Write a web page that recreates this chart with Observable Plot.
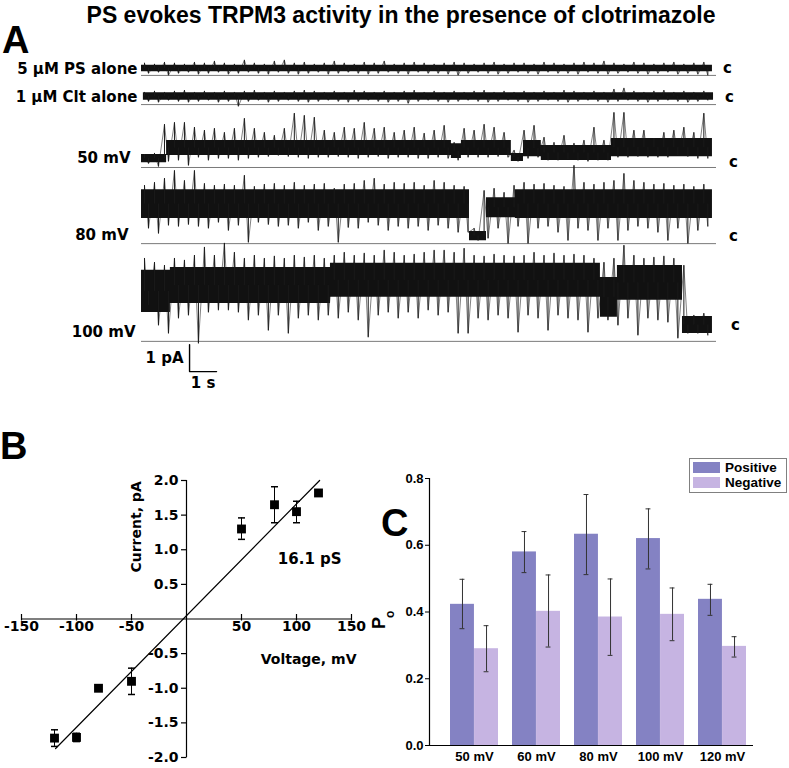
<!DOCTYPE html>
<html><head><meta charset="utf-8">
<script src="https://cdn.jsdelivr.net/npm/d3@7"></script>
<script src="https://cdn.jsdelivr.net/npm/@observablehq/plot@0.6"></script>
<style>
body{margin:0;background:#fff;}
#fig{position:relative;width:789px;height:768px;overflow:hidden;background:#fff;}
.letter{position:absolute;font-family:"Liberation Sans",Arial,sans-serif;font-weight:bold;font-size:38px;line-height:0.75;color:#000;}
#title{position:absolute;left:13px;top:2px;width:776px;text-align:center;font-family:"Liberation Sans",Arial,sans-serif;font-weight:bold;font-size:23px;line-height:1.15;color:#000;white-space:nowrap;}
#legend{position:absolute;left:689px;top:458px;width:96px;height:33px;border:1px solid #808080;background:#fff;font-family:"Liberation Sans",Arial,sans-serif;font-weight:bold;font-size:13.5px;}
#legend .row{position:absolute;left:3px;height:12px;display:flex;align-items:center;}
#legend .sw{width:27px;height:11px;margin-right:5px;}
</style></head><body>
<div id="fig"></div>
<script>
// ================= DATA =================
const title = "PS evokes TRPM3 activity in the presence of clotrimazole";
const panelLetters = ["A", "B", "C"];

// ---- Panel A: single-channel recordings (current in pA relative to closed level, sampled every sampleStep s) ----
const traceLabels = ["5 µM PS alone", "1 µM Clt alone", "50 mV", "80 mV", "100 mV"];
const closedLabel = "c";
const recordSeconds = 21.3;
const sampleStep = 0.37;
const psHi = [0.19,0.15,0.22,0.19,0.15,0.22,0.19,0.26,0.19,0.15,0.30,0.19,0.15,0.26,0.30,0.19,0.22,0.15,0.19,0.26,0.19,0.15,0.22,0.19,0.26,0.15,0.19,0.22,0.19,0.15,0.19,0.22,0.19,0.15,0.19,0.22,0.15,0.19,0.19,0.15,0.22,0.19,0.15,0.19,0.22,0.19,0.26,0.19,0.15,0.22,0.19,0.15,0.19,0.22,0.15,0.19,0.22];
const psLo = [-0.19,-0.15,-0.26,-0.19,-0.15,-0.22,-0.19,-0.15,-0.22,-0.19,-0.15,-0.19,-0.22,-0.15,-0.19,-0.22,-0.19,-0.15,-0.22,-0.19,-0.15,-0.19,-0.22,-0.19,-0.15,-0.19,-0.22,-0.15,-0.19,-0.19,-0.22,-0.26,-0.19,-0.15,-0.19,-0.22,-0.19,-0.15,-0.19,-0.22,-0.15,-0.19,-0.19,-0.22,-0.15,-0.19,-0.22,-0.19,-0.15,-0.19,-0.22,-0.19,-0.15,-0.22,-0.19,-0.22,-0.26];
const psCore = [[0,-0.12,0.12],[21.15,-0.12,0.12]];
const cltHi = [0.15,0.19,0.15,0.19,0.22,0.15,0.19,0.15,0.19,0.15,0.19,0.22,0.15,0.19,0.15,0.19,0.22,0.19,0.15,0.19,0.15,0.22,0.19,0.15,0.19,0.15,0.19,0.22,0.15,0.19,0.15,0.19,0.15,0.19,0.22,0.15,0.19,0.15,0.19,0.15,0.19,0.15,0.22,0.19,0.15,0.19,0.15,0.26,0.30,0.19,0.15,0.19,0.22,0.15,0.19,0.15,0.19];
const cltLo = [-0.19,-0.22,-0.15,-0.19,-0.22,-0.19,-0.15,-0.22,-0.19,-0.37,-0.19,-0.15,-0.22,-0.19,-0.15,-0.19,-0.22,-0.19,-0.15,-0.19,-0.22,-0.19,-0.15,-0.19,-0.22,-0.19,-0.26,-0.19,-0.15,-0.19,-0.22,-0.19,-0.15,-0.19,-0.22,-0.19,-0.15,-0.19,-0.22,-0.19,-0.15,-0.19,-0.22,-0.19,-0.15,-0.19,-0.22,-0.19,-0.15,-0.19,-0.22,-0.19,-0.15,-0.19,-0.22,-0.19,-0.15];
const cltCore = [[0.07,-0.14,0.14],[21.19,-0.14,0.14]];
const hi50 = [0.15,0.19,1.26,1.33,1.33,1.15,1.04,1.11,0.96,1.11,1.48,1.11,0.96,0.85,1.11,1.67,1.59,1.52,1.04,0.96,1.15,1.11,1.33,1.11,1.15,0.96,1.04,1.15,0.93,1.04,1.22,0.59,1.11,1.04,1.26,1.15,0.96,0.30,1.04,1.22,0.78,0.59,0.85,0.56,0.67,1.15,0.67,1.70,1.70,1.04,1.04,0.74,0.96,1.04,1.15,0.96,1.67];
const lo50 = [-0.19,-0.30,-0.11,-0.07,-0.26,0.04,-0.07,0,0,-0.07,0,0.04,0.07,0.11,0.07,0.04,0,0.04,0.04,0.07,0.04,0,0.04,0.07,0,0.04,0.04,0,0,0.04,0,-0.07,0.04,0.04,0.04,0.07,0.04,-0.11,0,0.04,-0.07,-0.07,-0.04,-0.07,-0.11,-0.07,-0.07,0.04,0.04,0.07,0.04,0.04,0.04,0.11,0.07,0,0];
const core50 = [[0,-0.15,0.15],[0.93,0.11,0.67],[11.48,0.0,0.55],[11.85,0.11,0.67],[13.70,-0.11,0.19],[14.15,0.07,0.67],[14.81,-0.07,0.48],[17.41,0.07,0.74],[21.15,0.07,0.74]];
const hi80 = [1.89,2.00,2.15,2.44,2.07,2.44,1.96,1.89,1.93,1.89,2.26,1.85,1.93,1.96,1.89,2.00,1.89,1.93,1.96,1.78,1.93,1.96,2.07,2.15,1.93,2.00,1.96,2.00,1.89,2.07,2.00,1.89,1.85,0.30,1.70,1.78,1.63,1.89,2.00,1.93,1.96,1.89,1.85,2.63,2.00,1.93,2.00,2.07,2.33,2.07,2.00,1.93,1.96,1.89,1.93,1.85,1.93];
const lo80 = [0.30,0.11,0.41,0.37,0.44,0.37,0.30,0.52,0.22,0.41,-0.22,0.52,0.44,0.37,0.41,0.30,0.52,0.22,0.37,-0.22,0.33,0.30,0.52,0.41,0.22,0.37,0.30,0.37,0.22,0.41,0.30,0.15,0.15,-0.15,-0.07,0.30,-0.26,0.37,-0.26,0.30,0.37,0.15,-0.15,0.30,0.22,-0.15,0.30,-0.15,0.22,0.37,0.30,0.15,-0.15,0.30,-0.26,0.22,0.37];
const core80 = [[0,0.67,1.74],[12.15,-0.15,0.19],[12.78,0.70,1.44],[13.85,0.67,1.74],[21.15,0.67,1.74]];
const hi100 = [2.48,2.33,2.22,2.48,2.41,2.59,2.89,2.59,3.04,2.70,2.48,2.59,2.48,2.56,2.48,2.59,2.52,2.59,2.48,2.59,2.70,2.59,2.67,2.59,2.78,2.70,2.59,2.63,2.70,2.78,2.78,2.70,2.85,2.59,2.56,2.63,2.59,2.56,2.59,2.70,2.59,2.67,2.59,2.63,2.59,2.48,2.33,2.48,2.96,2.59,2.48,2.52,2.56,2.48,2.22,0.37,0.44];
const lo100 = [0.74,0,-0.30,0.26,0.37,-0.67,0.48,0.56,0.56,0.48,0.19,0.37,-0.19,0.37,-0.30,0.26,0.37,0.19,0.37,0.26,0.48,0.19,-0.44,0.37,0.48,0.26,0.48,0.26,0.56,0.37,0.48,-0.30,-0.30,0.26,0.19,0.37,0.26,-0.26,0.37,0.26,-0.19,0.37,0.26,0.19,-0.26,0.26,0.19,0,0.26,-0.37,0.26,0.19,0.11,-0.48,-0.30,-0.30,-0.37];
const core100 = [[0,0.48,2.04],[1.07,0.81,2.15],[7.0,1.04,2.30],[17.0,0.3,1.78],[17.63,0.93,2.22],[20.04,-0.3,0.33],[21.15,-0.3,0.33]];
const scaleBarCurrent = 1;   // pA
const scaleBarTime = 1;      // s
const scaleBarLabels = ["1 pA", "1 s"];

// ---- Panel B: I-V relationship ----
const ivVoltage = [-120, -100, -80, -50, 50, 80, 100, 120];
const ivCurrent = [-1.72, -1.71, -1.00, -0.90, 1.30, 1.65, 1.55, 1.82];
const ivErrLow  = [-1.84, -1.77, null, -1.09, 1.15, 1.39, 1.39, null];
const ivErrHigh = [-1.60, -1.65, null, -0.71, 1.46, 1.91, 1.70, null];
const fitVoltage = [-119, 121];
const fitCurrent = [-1.87, 2.00];
const ivXTicks = [-150, -100, -50, 50, 100, 150];
const ivYTicks = [-2, -1.5, -1, -0.5, 0.5, 1, 1.5, 2];
const ivXLabel = "Voltage, mV";
const ivYLabel = "Current, pA";
const conductanceLabel = "16.1 pS";

// ---- Panel C: open probability ----
const poVoltages = ["50 mV", "60 mV", "80 mV", "100 mV", "120 mV"];
const poSeries = ["Positive", "Negative"];
const poPositive        = [0.423, 0.580, 0.633, 0.620, 0.438];
const poPositiveErrLow  = [0.350, 0.518, 0.512, 0.529, 0.390];
const poPositiveErrHigh = [0.498, 0.641, 0.752, 0.709, 0.483];
const poNegative        = [0.290, 0.402, 0.385, 0.393, 0.297];
const poNegativeErrLow  = [0.221, 0.295, 0.270, 0.314, 0.265];
const poNegativeErrHigh = [0.359, 0.511, 0.499, 0.472, 0.326];
const poYTicks = [0, 0.2, 0.4, 0.6, 0.8];
const poYLabel = ["P", "o"];

// ================= LAYOUT / STYLE =================
const seriesColors = ["#8482c3", "#c6b4e2"];
const boldDejaVu = {fontFamily: "'DejaVu Sans', sans-serif", fontWeight: "bold", background: "transparent", overflow: "visible"};
const fig = document.getElementById("fig");
function put(node, left, top) {
  node.style.position = "absolute"; node.style.left = left + "px"; node.style.top = top + "px";
  fig.appendChild(node); return node;
}

// ---- Panel A ----
const pxPerPA = 27;
const A = {width: 789, height: 400, ml: 141, mr: 73};
const rowLayout = [
  {level: 12.30, base: 12.04, labelDx: -4,  labelDy: 1, cDx: 11, cDy: 0},
  {level: 11.26, base: 10.96, labelDx: -4,  labelDy: 1, cDx: 13, cDy: 1},
  {level: 8.96,  base: 8.63,  labelDx: -11, labelDy: 0, cDx: 17, cDy: 4},
  {level: 6.07,  base: 5.81,  labelDx: -13, labelDy: -1, cDx: 17, cDy: 0},
  {level: 2.78,  base: 2.19,  labelDx: -6,  labelDy: 7, cDx: 19, cDy: 0}
];
const traces = [
  {hi: psHi, lo: psLo, core: psCore},
  {hi: cltHi, lo: cltLo, core: cltCore},
  {hi: hi50, lo: lo50, core: core50},
  {hi: hi80, lo: lo80, core: core80},
  {hi: hi100, lo: lo100, core: core100}
];
const scaleBarAnchor = {t: 1.78, v: 1.07};
const coreBisect = d3.bisector(d => d[0]).right;
function coreAt(core, t) { return core[Math.max(0, Math.min(core.length - 1, coreBisect(core, t) - 1))]; }

const marksA = [];
traces.forEach((tr, r) => {
  const L = rowLayout[r];
  const zig = [], ups = [], downs = [];
  tr.hi.forEach((h, i) => {
    const tu = i * sampleStep + sampleStep * 0.3, td = i * sampleStep + sampleStep * 0.7;
    zig.push({t: tu, v: L.level + h});
    zig.push({t: td, v: L.level + tr.lo[i]});
    const cu = coreAt(tr.core, tu), cd = coreAt(tr.core, td);
    ups.push({t: tu, y1: L.level + (cu[1] + cu[2]) / 2, y2: L.level + h});
    downs.push({t: td, y1: L.level + (cd[1] + cd[2]) / 2, y2: L.level + tr.lo[i]});
  });
  marksA.push(Plot.ruleY([L.base], {stroke: "#7a7a7a", strokeWidth: 1}));
  marksA.push(Plot.line(zig, {x: "t", y: "v", stroke: "#2a2a2a", strokeWidth: 0.7, strokeOpacity: 0.85}));
  marksA.push(Plot.areaY(tr.core, {x: d => d[0], y1: d => L.level + d[1], y2: d => L.level + d[2], curve: "step-after", fill: "#111"}));
  marksA.push(Plot.ruleX(ups, {x: "t", y1: "y1", y2: "y2", stroke: "#1a1a1a", strokeWidth: 1}));
  marksA.push(Plot.ruleX(downs, {x: "t", y1: "y1", y2: "y2", stroke: "#1a1a1a", strokeWidth: 1}));
  marksA.push(Plot.text([traceLabels[r]], {x: () => 0, y: () => L.level, text: d => d, textAnchor: "end", dx: L.labelDx, dy: L.labelDy, fontSize: 15}));
  marksA.push(Plot.text([closedLabel], {x: () => recordSeconds, y: () => L.level, text: d => d, dx: L.cDx, dy: L.cDy, fontSize: 15}));
});
const sb = scaleBarAnchor;
marksA.push(Plot.line([[sb.t, sb.v + scaleBarCurrent], [sb.t, sb.v], [sb.t + scaleBarTime, sb.v]], {x: d => d[0], y: d => d[1], stroke: "#000", strokeWidth: 1.4}));
marksA.push(Plot.text([scaleBarLabels[0]], {x: () => sb.t, y: () => sb.v + scaleBarCurrent / 2, text: d => d, textAnchor: "end", dx: -6, fontSize: 15}));
marksA.push(Plot.text([scaleBarLabels[1]], {x: () => sb.t + scaleBarTime / 2, y: () => sb.v, text: d => d, dy: 12, fontSize: 15}));

const plotA = Plot.plot({
  width: A.width, height: A.height, marginLeft: A.ml, marginRight: A.mr, marginTop: 0, marginBottom: 0,
  x: {domain: [0, recordSeconds], axis: null},
  y: {domain: [0, A.height / pxPerPA], axis: null},
  style: boldDejaVu,
  marks: marksA
});
put(plotA, 0, 0);

// ---- Panel B ----
const tickUp = {draw(ctx) { ctx.moveTo(0, 1.5); ctx.lineTo(0, -5); }};
const tickLeft = {draw(ctx) { ctx.moveTo(0, 0); ctx.lineTo(-5.5, 0); }};
const capH = {draw(ctx) { ctx.moveTo(-3.5, 0); ctx.lineTo(3.5, 0); }};
const ivData = ivVoltage.map((v, i) => ({v, cur: ivCurrent[i], lo: ivErrLow[i], hi: ivErrHigh[i]}));
const ivErr = ivData.filter(d => d.lo != null);
const fitData = fitVoltage.map((v, i) => ({v, cur: fitCurrent[i]}));
const plotB = Plot.plot({
  width: 380, height: 368, marginLeft: 21, marginRight: 29, marginTop: 80, marginBottom: 11,
  x: {domain: [-150, 150], axis: null},
  y: {domain: [-2, 2], axis: null},
  style: {...boldDejaVu, fontSize: "14px"},
  marks: [
    Plot.ruleY([0], {stroke: "#000", strokeWidth: 1.2}),
    Plot.ruleX([0], {stroke: "#000", strokeWidth: 1.2}),
    Plot.dot(ivXTicks, {x: d => d, y: () => 0, symbol: tickUp, stroke: "#000", fill: "none", strokeWidth: 1.2}),
    Plot.dot(ivYTicks, {x: () => 0, y: d => d, symbol: tickLeft, stroke: "#000", fill: "none", strokeWidth: 1.2}),
    Plot.text(ivXTicks, {x: d => d, y: () => 0, text: d => String(d), dy: 8}),
    Plot.text(ivYTicks, {x: () => 0, y: d => d, text: d => d.toFixed(1), textAnchor: "end", dx: -8}),
    Plot.line(fitData, {x: "v", y: "cur", stroke: "#000", strokeWidth: 1.2}),
    Plot.ruleX(ivErr, {x: "v", y1: "lo", y2: "hi", stroke: "#000", strokeWidth: 1}),
    Plot.dot(ivErr, {x: "v", y: "lo", symbol: capH, stroke: "#000", fill: "none"}),
    Plot.dot(ivErr, {x: "v", y: "hi", symbol: capH, stroke: "#000", fill: "none"}),
    Plot.dot(ivData, {x: "v", y: "cur", symbol: "square", r: 5, fill: "#000", stroke: "none"}),
    Plot.text([ivYLabel], {x: () => -45, y: () => 1.33, text: d => d, rotate: -90}),
    Plot.text([ivXLabel], {x: () => 111, y: () => -0.58, text: d => d}),
    Plot.text([conductanceLabel], {x: () => 112, y: () => 0.87, text: d => d, fontSize: 15})
  ]
});
put(plotB, 0, 400);

// ---- Panel C ----
const C = {width: 409, height: 328, ml: 49, mr: 36, mt: 38, mb: 23};
const xBand = {type: "band", domain: poVoltages, paddingInner: 0.23, paddingOuter: 0.207, align: 0.73};
const bw = Plot.scale({x: {...xBand, range: [C.ml, C.width - C.mr]}}).bandwidth;
const pos = poVoltages.map((v, i) => ({v, s: poSeries[0], val: poPositive[i], lo: poPositiveErrLow[i], hi: poPositiveErrHigh[i]}));
const neg = poVoltages.map((v, i) => ({v, s: poSeries[1], val: poNegative[i], lo: poNegativeErrLow[i], hi: poNegativeErrHigh[i]}));
const capHalf = 2.5;
const plotC = Plot.plot({
  width: C.width, height: C.height, marginLeft: C.ml, marginRight: C.mr, marginTop: C.mt, marginBottom: C.mb,
  x: {...xBand, label: null},
  y: {domain: [0, 0.8], label: null},
  style: {fontFamily: "'Liberation Sans', Arial, sans-serif", fontWeight: "bold", fontSize: "13px", background: "transparent", overflow: "visible"},
  marks: [
    Plot.barY(pos, {x: "v", y: "val", fill: seriesColors[0], insetRight: bw / 2}),
    Plot.barY(neg, {x: "v", y: "val", fill: seriesColors[1], insetLeft: bw / 2}),
    Plot.ruleX(pos, {x: "v", y1: "lo", y2: "hi", dx: -bw / 4, stroke: "#333", strokeWidth: 1}),
    Plot.ruleX(neg, {x: "v", y1: "lo", y2: "hi", dx: bw / 4, stroke: "#333", strokeWidth: 1}),
    Plot.tickY(pos, {x: "v", y: "lo", insetLeft: bw / 4 - capHalf, insetRight: 3 * bw / 4 - capHalf, stroke: "#333"}),
    Plot.tickY(pos, {x: "v", y: "hi", insetLeft: bw / 4 - capHalf, insetRight: 3 * bw / 4 - capHalf, stroke: "#333"}),
    Plot.tickY(neg, {x: "v", y: "lo", insetLeft: 3 * bw / 4 - capHalf, insetRight: bw / 4 - capHalf, stroke: "#333"}),
    Plot.tickY(neg, {x: "v", y: "hi", insetLeft: 3 * bw / 4 - capHalf, insetRight: bw / 4 - capHalf, stroke: "#333"}),
    Plot.ruleY([0], {stroke: "#000", strokeWidth: 1.2}),
    Plot.frame({anchor: "left", stroke: "#000", strokeWidth: 1.2}),
    Plot.axisY({ticks: poYTicks, tickFormat: d => d.toFixed(1), tickSize: 4, tickPadding: 2, label: null}),
    Plot.axisX({tickSize: 0, tickPadding: 6, label: null}),
    Plot.text([poYLabel[0]], {frameAnchor: "left", text: d => d, rotate: -90, dx: -50, dy: 17, fontSize: 18}),
    Plot.text([poYLabel[1]], {frameAnchor: "left", text: d => d, rotate: -90, dx: -39, dy: 6, fontSize: 12})
  ]
});
put(plotC, 380, 440);

// ---- Legend (C) ----
const legend = document.createElement("div");
legend.id = "legend";
poSeries.forEach((s, i) => {
  const row = document.createElement("div");
  row.className = "row";
  row.style.top = (2 + i * 15) + "px";
  const sw = document.createElement("span");
  sw.className = "sw"; sw.style.background = seriesColors[i];
  const tx = document.createElement("span");
  tx.textContent = s;
  row.appendChild(sw); row.appendChild(tx);
  legend.appendChild(row);
});
fig.appendChild(legend);

// ---- Title and panel letters ----
const tdiv = document.createElement("div");
tdiv.id = "title"; tdiv.textContent = title; fig.appendChild(tdiv);
const letterPos = [[2, 26], [0, 432], [381, 509]];
panelLetters.forEach((l, i) => {
  const d = document.createElement("div");
  d.className = "letter"; d.textContent = l;
  put(d, letterPos[i][0], letterPos[i][1]);
});
</script></body></html>
